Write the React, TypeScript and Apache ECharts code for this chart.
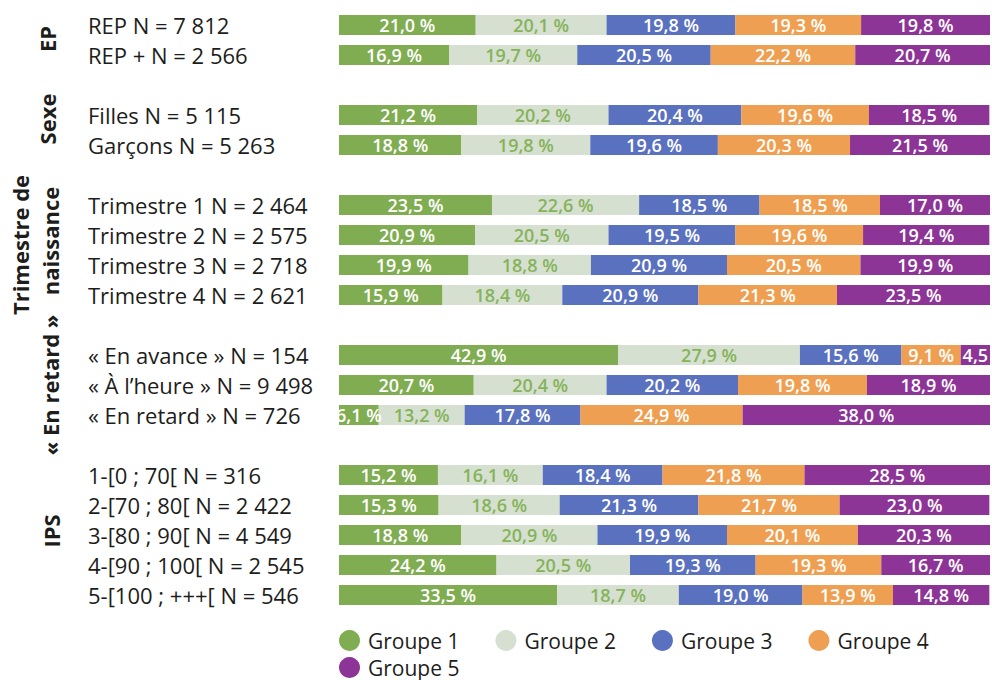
import React, { useEffect, useRef } from "react";
import * as echarts from "echarts";

const rowLabels: string[][] = [
  ["REP N = 7 812", "REP + N = 2 566"],
  ["Filles N = 5 115", "Garçons N = 5 263"],
  ["Trimestre 1 N = 2 464", "Trimestre 2 N = 2 575", "Trimestre 3 N = 2 718", "Trimestre 4 N = 2 621"],
  ["« En avance » N = 154", "« À l’heure » N = 9 498", "« En retard » N = 726"],
  ["1-[0 ; 70[ N = 316", "2-[70 ; 80[ N = 2 422", "3-[80 ; 90[ N = 4 549", "4-[90 ; 100[ N = 2 545", "5-[100 ; +++[ N = 546"],
];

const seriesNames = ["Groupe 1", "Groupe 2", "Groupe 3", "Groupe 4", "Groupe 5"];

// values per row, in row order
const groupe1 = [21.0, 16.9, 21.2, 18.8, 23.5, 20.9, 19.9, 15.9, 42.9, 20.7, 6.1, 15.2, 15.3, 18.8, 24.2, 33.5];
const groupe2 = [20.1, 19.7, 20.2, 19.8, 22.6, 20.5, 18.8, 18.4, 27.9, 20.4, 13.2, 16.1, 18.6, 20.9, 20.5, 18.7];
const groupe3 = [19.8, 20.5, 20.4, 19.6, 18.5, 19.5, 20.9, 20.9, 15.6, 20.2, 17.8, 18.4, 21.3, 19.9, 19.3, 19.0];
const groupe4 = [19.3, 22.2, 19.6, 20.3, 18.5, 19.6, 20.5, 21.3, 9.1, 19.8, 24.9, 21.8, 21.7, 20.1, 19.3, 13.9];
const groupe5 = [19.8, 20.7, 18.5, 21.5, 17.0, 19.4, 19.9, 23.5, 4.5, 18.9, 38.0, 28.5, 23.0, 20.3, 16.7, 14.8];

const colors = ["#80ad52", "#d5e0d0", "#5a71bf", "#ef9f51", "#8d3497"];
const labelColors = ["#ffffff", "#86b35a", "#ffffff", "#ffffff", "#ffffff"];

export default function App() {
  const ref = useRef<HTMLDivElement>(null);
  useEffect(() => {
    document.body.style.margin = "0";
    const chart = echarts.init(ref.current!, null, { renderer: "svg" });

    const cats: string[] = [];
    const rowIndexOfSlot: (number | null)[] = [];
    let r = 0;
    rowLabels.forEach((sec, si) => {
      if (si > 0) {
        cats.push("gap" + si);
        rowIndexOfSlot.push(null);
      }
      sec.forEach((lab) => {
        cats.push(lab);
        rowIndexOfSlot.push(r++);
      });
    });
    const groups = [groupe1, groupe2, groupe3, groupe4, groupe5];
    const fmt = (v: number) => v.toFixed(1).replace(".", ",") + (v < 5 ? "" : " %");

    const series = groups.map((g, gi) => ({
      name: seriesNames[gi],
      type: "bar",
      stack: "total",
      barWidth: 20,
      itemStyle: { color: colors[gi] },
      label: {
        show: true,
        position: "inside",
        color: labelColors[gi],
        fontSize: 18,
        fontWeight: 600,
        fontFamily: "Open Sans",
        formatter: (p: any) => fmt(p.value),
      },
      data: rowIndexOfSlot.map((ri) => (ri === null ? null : g[ri])),
    }));

    const groupText = (text: string, x: number, y: number) => ({
      type: "text",
      x,
      y,
      rotation: Math.PI / 2,
      style: {
        text,
        fontSize: 22,
        fontWeight: 700,
        fontFamily: "Open Sans",
        fill: "#1d1d1b",
        align: "center",
        verticalAlign: "middle",
      },
    });

    const legendText = { fontSize: 21, fontFamily: "Open Sans", color: "#1d1d1b", padding: [0, 0, 0, 3] };

    chart.setOption({
      animation: false,
      grid: { left: 339, right: 2, top: 10, height: 600 },
      xAxis: { type: "value", min: 0, max: 100, show: false },
      yAxis: {
        type: "category",
        inverse: true,
        data: cats,
        axisLine: { show: false },
        axisTick: { show: false },
        axisLabel: {
          align: "left",
          margin: 251,
          fontSize: 22,
          fontFamily: "Open Sans",
          color: "#1d1d1b",
          formatter: (v: string) => (v.startsWith("gap") ? "" : v),
        },
      },
      legend: [
        {
          data: seriesNames.slice(0, 4),
          left: 339,
          top: 630,
          padding: 0,
          icon: "circle",
          itemWidth: 21,
          itemHeight: 21,
          itemGap: 36,
          textStyle: legendText,
        },
        {
          data: seriesNames.slice(4),
          left: 339,
          top: 657,
          padding: 0,
          icon: "circle",
          itemWidth: 21,
          itemHeight: 21,
          textStyle: legendText,
        },
      ],
      graphic: [
        groupText("EP", 47, 39),
        groupText("Sexe", 47, 119),
        groupText("Trimestre de", 20, 245),
        groupText("naissance", 50, 241),
        groupText("« En retard »", 50, 385),
        groupText("IPS", 51, 531),
      ],
      series,
    });
    return () => chart.dispose();
  }, []);
  return <div ref={ref} style={{ width: 992, height: 680 }} />;
}
